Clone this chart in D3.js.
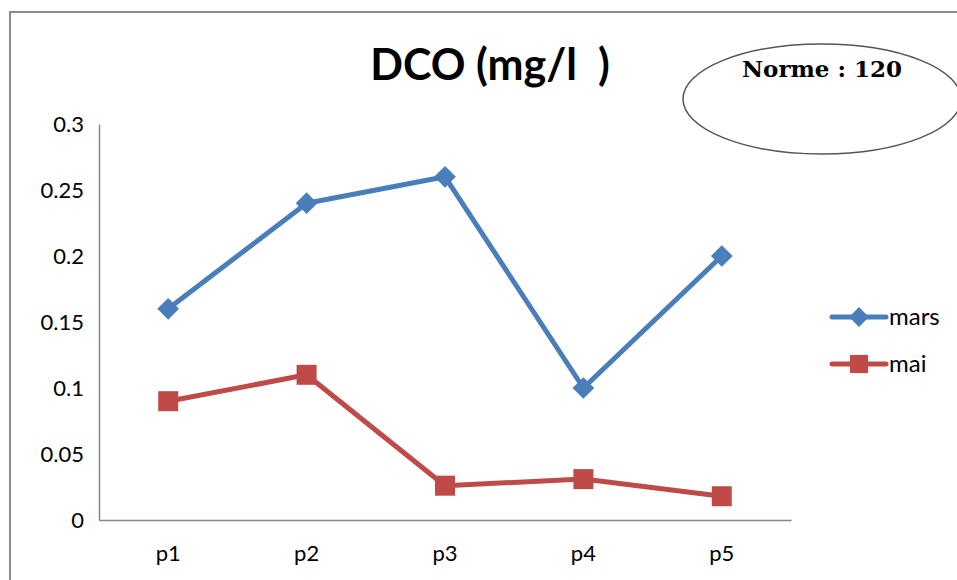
<!DOCTYPE html>
<html>
<head>
<meta charset="utf-8">
<script src="https://cdn.jsdelivr.net/npm/d3@7"></script>
<style>
  html, body { margin: 0; padding: 0; background: #fff; }
  svg { display: block; }
</style>
</head>
<body>
<div id="chart"></div>
<script>
// Data
const categories = ['p1', 'p2', 'p3', 'p4', 'p5'];
const mars = [0.16, 0.24, 0.26, 0.10, 0.20];
const mai = [0.09, 0.11, 0.026, 0.031, 0.018];
const yTicks = [0, 0.05, 0.1, 0.15, 0.2, 0.25, 0.3];
const title = 'DCO (mg/l  )';
const note = 'Norme : 120';

const W = 957, H = 580;
const plot = { left: 99, right: 791, top: 124, bottom: 520 };
const font = 'Lato, "Open Sans", sans-serif';

const series = [
  { name: 'mars', values: mars, color: '#4a7ebb', marker: d3.symbolDiamond2 },
  { name: 'mai', values: mai, color: '#be4b48', marker: d3.symbolSquare }
];

const svg = d3.select('#chart').append('svg')
  .attr('width', W).attr('height', H);

// Outer chart border (cut off at right and bottom)
svg.append('rect')
  .attr('x', 10).attr('y', 12)
  .attr('width', W).attr('height', H)
  .attr('fill', 'none')
  .attr('stroke', '#8c8c8c')
  .attr('stroke-width', 2);

const x = d3.scaleBand()
  .domain(categories)
  .range([plot.left, plot.right]);

const y = d3.scaleLinear()
  .domain([0, 0.3])
  .range([plot.bottom, plot.top]);

const cx = d => x(d) + x.bandwidth() / 2;

// Y axis labels
const yAxis = svg.append('g')
  .attr('transform', `translate(${plot.left},0)`)
  .call(d3.axisLeft(y).tickValues(yTicks).tickSize(0).tickPadding(15)
    .tickFormat(d => String(+d.toFixed(2))));
yAxis.select('.domain').attr('stroke', '#868686').attr('stroke-width', 1.5);
yAxis.selectAll('text')
  .attr('font-family', font).attr('font-size', 22).attr('fill', '#000');

// X axis labels
const xAxis = svg.append('g')
  .attr('transform', `translate(0,${plot.bottom})`)
  .call(d3.axisBottom(x).tickSize(0).tickPadding(25));
xAxis.select('.domain').attr('stroke', '#868686').attr('stroke-width', 1.5);
xAxis.selectAll('text')
  .attr('font-family', font).attr('font-size', 22).attr('fill', '#000');

// Lines and markers
const line = d3.line()
  .x((_, i) => cx(categories[i]))
  .y(d => y(d));

series.forEach(s => {
  svg.append('path')
    .datum(s.values)
    .attr('d', line)
    .attr('fill', 'none')
    .attr('stroke', s.color)
    .attr('stroke-width', 5)
    .attr('stroke-linejoin', 'round');

  svg.selectAll(null)
    .data(s.values)
    .join('path')
    .attr('transform', (d, i) => `translate(${cx(categories[i])},${y(d)})`)
    .attr('d', d3.symbol().type(s.marker).size(s.marker === d3.symbolSquare ? 400 : 300))
    .attr('fill', s.color);
});

// Legend
const legend = svg.append('g').attr('transform', 'translate(832,317)');
series.forEach((s, i) => {
  const g = legend.append('g').attr('transform', `translate(0,${i * 47})`);
  g.append('line')
    .attr('x1', 0).attr('x2', 54)
    .attr('stroke', s.color).attr('stroke-width', 5)
    .attr('stroke-linecap', 'round');
  g.append('path')
    .attr('transform', 'translate(27,0)')
    .attr('d', d3.symbol().type(s.marker).size(s.marker === d3.symbolSquare ? 330 : 250))
    .attr('fill', s.color);
  g.append('text')
    .attr('x', 57).attr('dy', '0.35em')
    .attr('font-family', font).attr('font-size', 24)
    .text(s.name);
});

// Title
svg.append('text')
  .attr('x', 490).attr('y', 80)
  .attr('text-anchor', 'middle')
  .attr('font-family', font).attr('font-weight', 'bold').attr('font-size', 43)
  .attr('xml:space', 'preserve')
  .style('white-space', 'pre')
  .text(title);

// Norme note in ellipse
svg.append('ellipse')
  .attr('cx', 822).attr('cy', 99)
  .attr('rx', 139).attr('ry', 55)
  .attr('fill', 'none')
  .attr('stroke', '#555')
  .attr('stroke-width', 1.5);
svg.append('text')
  .attr('x', 822).attr('y', 77)
  .attr('text-anchor', 'middle')
  .attr('font-family', '"DejaVu Serif", "Liberation Serif", serif')
  .attr('font-weight', 'bold').attr('font-size', 23)
  .text(note);
</script>
</body>
</html>
